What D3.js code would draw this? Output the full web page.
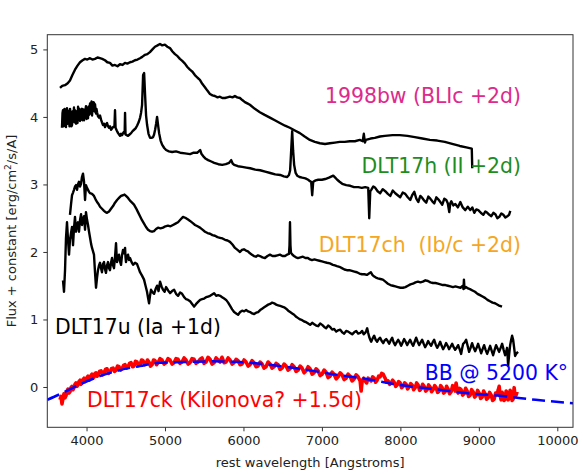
<!DOCTYPE html>
<html>
<head>
<meta charset="utf-8">
<script src="https://cdn.jsdelivr.net/npm/d3@7"></script>
<style>
  body { margin: 0; background: #fff; }
  svg { font-family: 'DejaVu Sans', sans-serif; }
</style>
</head>
<body>
<svg id="chart" width="583" height="474"></svg>
<script>
// [wavelength (A), flux + offset]
const sn1998bw = [[3662,4.43],[3690,4.46],[3725,4.47],[3760,4.50],[3789,4.54],[3820,4.62],[3853,4.70],[3885,4.76],[3917,4.81],[3950,4.84],[3980,4.86],[4010,4.85],[4044,4.87],[4075,4.85],[4108,4.86],[4140,4.88],[4171,4.87],[4200,4.86],[4235,4.84],[4265,4.81],[4299,4.80],[4330,4.76],[4362,4.77],[4395,4.75],[4426,4.78],[4460,4.77],[4490,4.80],[4520,4.79],[4554,4.81],[4585,4.82],[4617,4.84],[4650,4.85],[4681,4.87],[4710,4.89],[4745,4.92],[4775,4.93],[4808,4.96],[4840,5.00],[4872,5.04],[4905,5.06],[4936,5.08],[4965,5.06],[4999,5.07],[5030,5.04],[5063,5.02],[5095,4.97],[5127,4.93],[5160,4.90],[5190,4.86],[5220,4.83],[5254,4.79],[5285,4.74],[5318,4.70],[5350,4.67],[5381,4.62],[5415,4.58],[5445,4.55],[5475,4.49],[5509,4.44],[5540,4.39],[5573,4.34],[5605,4.32],[5636,4.31],[5670,4.29],[5700,4.30],[5730,4.28],[5764,4.28],[5795,4.29],[5827,4.30],[5860,4.29],[5891,4.31],[5920,4.29],[5955,4.28],[5985,4.25],[6018,4.22],[6050,4.20],[6082,4.18],[6145,4.12],[6209,4.07],[6270,4.03],[6337,3.99],[6400,3.95],[6464,3.91],[6530,3.87],[6591,3.84],[6655,3.80],[6719,3.76],[6780,3.71],[6846,3.66],[6910,3.63],[6974,3.61],[7040,3.60],[7101,3.61],[7165,3.62],[7228,3.63],[7290,3.63],[7356,3.64],[7420,3.64],[7483,3.66],[7520,3.64],[7534,3.75],[7548,3.62],[7560,3.66],[7620,3.68],[7674,3.69],[7740,3.71],[7802,3.72],[7900,3.73],[7993,3.73],[8090,3.72],[8184,3.70],[8280,3.68],[8375,3.66],[8470,3.65],[8566,3.63],[8660,3.60],[8757,3.57],[8840,3.55],[8910,3.53],[8916,3.24]];

const dlt17h = [[3687,3.84],[3694,4.06],[3700,4.10],[3706,3.86],[3713,3.92],[3719,4.12],[3725,4.05],[3731,3.87],[3738,3.85],[3744,4.10],[3751,4.13],[3757,3.90],[3764,3.92],[3770,4.09],[3777,3.96],[3783,3.86],[3790,4.12],[3796,4.02],[3802,4.07],[3808,3.86],[3815,3.88],[3821,4.08],[3828,3.93],[3834,4.02],[3840,4.14],[3847,3.92],[3853,4.10],[3859,4.04],[3866,3.90],[3872,4.08],[3879,3.99],[3885,3.91],[3892,4.15],[3898,3.97],[3904,4.07],[3910,4.12],[3917,3.94],[3923,4.05],[3930,3.96],[3936,4.10],[3942,4.12],[3949,3.95],[3955,4.07],[3961,4.11],[3968,3.95],[3974,4.06],[3981,3.99],[3987,4.10],[3993,4.16],[4000,3.97],[4006,4.13],[4012,4.06],[4019,3.98],[4025,4.15],[4032,4.03],[4038,4.12],[4045,4.20],[4051,4.05],[4057,4.19],[4064,4.23],[4070,4.02],[4076,4.16],[4083,4.10],[4089,4.22],[4095,4.21],[4102,4.08],[4108,4.19],[4114,4.12],[4121,4.05],[4127,4.12],[4134,4.07],[4146,4.01],[4159,3.99],[4172,4.02],[4185,3.96],[4197,3.92],[4210,3.88],[4223,3.90],[4236,3.85],[4248,3.89],[4261,3.91],[4274,3.86],[4287,3.84],[4300,3.86],[4312,3.81],[4325,3.83],[4338,3.85],[4356,3.86],[4363,4.10],[4370,3.84],[4385,3.80],[4402,3.76],[4415,3.74],[4427,3.72],[4440,3.75],[4453,3.73],[4465,3.76],[4478,3.78],[4486,3.76],[4491,4.06],[4497,3.74],[4512,3.73],[4529,3.72],[4548,3.74],[4568,3.76],[4587,3.79],[4606,3.81],[4625,3.83],[4644,3.87],[4664,3.92],[4683,3.99],[4695,4.06],[4708,4.18],[4721,4.62],[4734,4.65],[4746,4.33],[4759,4.02],[4772,3.88],[4790,3.75],[4810,3.69],[4829,3.69],[4848,3.70],[4861,3.74],[4874,3.81],[4887,3.90],[4899,4.00],[4912,3.88],[4925,3.76],[4944,3.65],[4963,3.59],[4990,3.54],[5014,3.51],[5050,3.49],[5091,3.48],[5140,3.49],[5193,3.47],[5255,3.46],[5320,3.45],[5365,3.47],[5410,3.47],[5430,3.49],[5448,3.51],[5466,3.45],[5486,3.42],[5520,3.38],[5550,3.36],[5590,3.34],[5627,3.32],[5680,3.30],[5729,3.29],[5775,3.30],[5818,3.32],[5844,3.36],[5862,3.31],[5882,3.29],[5930,3.27],[5984,3.26],[6035,3.25],[6086,3.24],[6150,3.22],[6213,3.21],[6277,3.19],[6341,3.17],[6405,3.15],[6468,3.14],[6515,3.12],[6557,3.11],[6580,3.14],[6595,3.21],[6608,3.50],[6621,3.79],[6633,3.50],[6646,3.29],[6665,3.17],[6685,3.13],[6715,3.11],[6749,3.10],[6790,3.09],[6825,3.07],[6845,3.05],[6863,3.04],[6876,2.84],[6889,3.04],[6920,3.06],[6953,3.07],[7000,3.07],[7042,3.08],[7090,3.10],[7144,3.13],[7170,3.10],[7195,3.07],[7225,3.04],[7259,3.01],[7310,2.99],[7361,2.98],[7410,2.96],[7463,2.96],[7508,2.95],[7552,2.96],[7590,2.95],[7603,2.50],[7616,2.90],[7629,2.92],[7655,2.97],[7680,2.95],[7710,2.90],[7743,2.87],[7775,2.93],[7807,2.90],[7840,2.86],[7871,2.83],[7903,2.91],[7935,2.87],[7966,2.84],[7998,2.81],[8030,2.88],[8062,2.86],[8094,2.81],[8126,2.77],[8150,2.84],[8177,2.89],[8203,2.79],[8228,2.74],[8254,2.83],[8279,2.80],[8305,2.76],[8330,2.73],[8356,2.82],[8381,2.79],[8407,2.75],[8432,2.72],[8458,2.81],[8483,2.78],[8509,2.74],[8534,2.70],[8560,2.79],[8585,2.77],[8604,2.72],[8623,2.59],[8636,2.72],[8649,2.75],[8675,2.69],[8700,2.71],[8732,2.66],[8764,2.74],[8795,2.66],[8827,2.62],[8859,2.67],[8891,2.62],[8917,2.66],[8942,2.58],[8968,2.63],[8993,2.62],[9025,2.58],[9057,2.55],[9083,2.60],[9108,2.58],[9134,2.55],[9159,2.53],[9185,2.58],[9210,2.56],[9236,2.50],[9261,2.52],[9287,2.57],[9312,2.55],[9338,2.51],[9363,2.53],[9385,2.55],[9401,2.61]];

const dlt17ch = [[3789,2.55],[3802,2.70],[3815,2.84],[3828,2.88],[3840,2.92],[3853,2.97],[3866,2.99],[3879,2.92],[3891,3.00],[3904,3.04],[3917,2.97],[3930,3.01],[3942,3.11],[3955,3.16],[3968,3.04],[3981,2.77],[3993,2.99],[4006,2.95],[4019,2.92],[4032,2.89],[4045,2.87],[4070,2.86],[4095,2.83],[4115,2.78],[4134,2.74],[4153,2.71],[4172,2.67],[4197,2.64],[4223,2.61],[4242,2.59],[4261,2.58],[4287,2.60],[4312,2.64],[4338,2.68],[4363,2.73],[4389,2.77],[4414,2.80],[4440,2.83],[4465,2.84],[4484,2.85],[4503,2.83],[4529,2.80],[4554,2.76],[4580,2.73],[4605,2.70],[4630,2.65],[4656,2.59],[4682,2.53],[4707,2.47],[4733,2.42],[4758,2.37],[4784,2.33],[4809,2.31],[4835,2.30],[4860,2.31],[4886,2.34],[4911,2.36],[4943,2.35],[4975,2.36],[5006,2.38],[5038,2.39],[5070,2.38],[5102,2.40],[5134,2.42],[5166,2.44],[5198,2.48],[5230,2.52],[5249,2.51],[5268,2.50],[5294,2.48],[5319,2.46],[5351,2.43],[5383,2.40],[5415,2.38],[5446,2.36],[5478,2.33],[5510,2.30],[5542,2.28],[5574,2.27],[5605,2.25],[5637,2.24],[5669,2.22],[5701,2.21],[5733,2.20],[5765,2.18],[5797,2.17],[5828,2.15],[5860,2.11],[5892,2.06],[5924,2.03],[5956,2.00],[5981,2.03],[6006,2.04],[6032,2.02],[6057,2.01],[6083,1.98],[6108,1.96],[6134,1.94],[6159,1.93],[6185,1.95],[6210,1.94],[6242,1.92],[6274,1.91],[6306,1.94],[6338,1.96],[6370,1.94],[6401,1.94],[6433,1.95],[6465,1.96],[6497,1.94],[6529,1.94],[6555,1.96],[6580,1.97],[6587,2.10],[6593,2.44],[6599,2.10],[6605,1.99],[6624,1.96],[6643,1.94],[6669,1.92],[6694,1.91],[6726,1.92],[6758,1.93],[6790,1.91],[6822,1.91],[6848,1.89],[6873,1.88],[6905,1.89],[6936,1.88],[6968,1.87],[7000,1.86],[7032,1.85],[7064,1.84],[7102,1.83],[7140,1.81],[7166,1.80],[7191,1.79],[7223,1.78],[7255,1.76],[7287,1.74],[7318,1.73],[7350,1.73],[7382,1.72],[7414,1.71],[7446,1.70],[7478,1.68],[7510,1.67],[7542,1.67],[7573,1.66],[7599,1.68],[7624,1.70],[7643,1.66],[7662,1.64],[7688,1.62],[7713,1.61],[7745,1.60],[7777,1.59],[7809,1.56],[7841,1.53],[7873,1.51],[7905,1.50],[7937,1.49],[7968,1.48],[8000,1.47],[8032,1.47],[8064,1.48],[8096,1.50],[8128,1.52],[8160,1.53],[8192,1.55],[8224,1.56],[8256,1.55],[8287,1.56],[8319,1.58],[8351,1.57],[8383,1.55],[8415,1.54],[8447,1.54],[8479,1.53],[8511,1.52],[8542,1.51],[8574,1.51],[8606,1.50],[8638,1.49],[8670,1.48],[8702,1.49],[8734,1.48],[8766,1.47],[8797,1.50],[8804,1.45],[8810,1.59],[8817,1.46],[8836,1.48],[8862,1.46],[8887,1.45],[8919,1.43],[8951,1.41],[8983,1.38],[9015,1.36],[9047,1.34],[9078,1.32],[9110,1.29],[9142,1.27],[9174,1.25],[9206,1.24],[9250,1.21],[9295,1.19]];

const dlt17u = [[3700,1.58],[3713,1.41],[3726,1.73],[3738,2.20],[3751,2.44],[3764,2.18],[3777,1.96],[3789,2.18],[3802,2.28],[3815,2.37],[3828,2.10],[3840,2.35],[3853,2.52],[3866,2.30],[3878,2.40],[3891,2.44],[3904,2.30],[3917,2.47],[3930,2.56],[3942,2.40],[3955,2.48],[3968,2.53],[3981,2.33],[3993,2.59],[4006,2.48],[4019,2.40],[4032,2.30],[4045,2.21],[4058,2.12],[4070,2.06],[4083,2.01],[4095,1.96],[4108,1.70],[4121,1.47],[4134,1.62],[4146,1.73],[4159,1.80],[4172,1.84],[4185,1.76],[4197,1.70],[4210,1.82],[4223,1.85],[4236,1.74],[4248,1.69],[4261,1.80],[4274,1.85],[4287,1.76],[4299,1.73],[4312,1.84],[4325,1.91],[4338,1.80],[4350,1.76],[4363,1.92],[4376,2.13],[4382,1.98],[4389,1.85],[4402,1.92],[4414,1.96],[4427,1.86],[4440,1.81],[4452,1.95],[4465,2.03],[4478,1.98],[4491,2.06],[4497,1.92],[4503,1.85],[4516,1.93],[4529,1.96],[4542,1.88],[4554,1.91],[4574,1.85],[4593,1.81],[4618,1.84],[4644,1.82],[4663,1.76],[4682,1.70],[4707,1.65],[4733,1.59],[4752,1.50],[4771,1.41],[4784,1.32],[4797,1.24],[4810,1.36],[4822,1.44],[4842,1.40],[4861,1.38],[4880,1.45],[4899,1.50],[4918,1.42],[4937,1.56],[4956,1.49],[4975,1.44],[4995,1.41],[5014,1.48],[5040,1.43],[5065,1.39],[5090,1.42],[5116,1.44],[5141,1.38],[5167,1.35],[5193,1.40],[5218,1.38],[5244,1.33],[5269,1.30],[5295,1.29],[5320,1.27],[5346,1.23],[5371,1.19],[5397,1.23],[5422,1.26],[5448,1.29],[5473,1.30],[5499,1.31],[5524,1.33],[5550,1.34],[5575,1.35],[5601,1.37],[5626,1.39],[5652,1.35],[5677,1.36],[5703,1.35],[5728,1.33],[5754,1.31],[5779,1.29],[5805,1.25],[5830,1.20],[5856,1.15],[5881,1.11],[5907,1.09],[5932,1.07],[5958,1.11],[5983,1.13],[6009,1.12],[6034,1.14],[6060,1.12],[6085,1.11],[6111,1.09],[6136,1.08],[6162,1.10],[6187,1.11],[6213,1.14],[6238,1.16],[6264,1.18],[6289,1.20],[6315,1.22],[6340,1.23],[6366,1.25],[6391,1.24],[6417,1.22],[6442,1.21],[6468,1.20],[6493,1.19],[6519,1.18],[6544,1.16],[6570,1.13],[6595,1.11],[6621,1.09],[6646,1.07],[6672,1.04],[6697,1.02],[6723,1.00],[6748,0.99],[6774,0.97],[6799,0.96],[6825,0.94],[6850,0.92],[6876,0.95],[6901,0.93],[6927,0.91],[6952,0.90],[6978,0.94],[7003,0.92],[7029,0.89],[7054,0.87],[7080,0.91],[7105,0.89],[7131,0.85],[7156,0.86],[7182,0.82],[7207,0.84],[7233,0.85],[7258,0.81],[7284,0.79],[7309,0.83],[7335,0.82],[7360,0.80],[7386,0.78],[7411,0.81],[7437,0.83],[7462,0.79],[7488,0.80],[7513,0.83],[7532,0.78],[7551,0.80],[7564,0.83],[7577,0.87],[7590,0.80],[7603,0.74],[7616,0.70],[7628,0.67],[7647,0.72],[7666,0.76],[7685,0.70],[7704,0.67],[7723,0.71],[7742,0.73],[7762,0.68],[7781,0.65],[7800,0.69],[7819,0.71],[7838,0.68],[7857,0.64],[7876,0.69],[7895,0.73],[7914,0.66],[7933,0.62],[7952,0.66],[7972,0.70],[7991,0.66],[8010,0.61],[8029,0.66],[8048,0.71],[8067,0.67],[8086,0.62],[8105,0.66],[8124,0.70],[8143,0.65],[8163,0.61],[8182,0.67],[8201,0.73],[8220,0.67],[8239,0.62],[8258,0.66],[8277,0.70],[8297,0.64],[8316,0.59],[8335,0.63],[8354,0.68],[8373,0.64],[8392,0.61],[8411,0.66],[8430,0.70],[8450,0.63],[8469,0.58],[8488,0.62],[8507,0.67],[8526,0.61],[8545,0.56],[8564,0.60],[8583,0.65],[8602,0.61],[8621,0.56],[8641,0.60],[8660,0.64],[8679,0.59],[8698,0.55],[8717,0.58],[8736,0.62],[8755,0.56],[8774,0.49],[8787,0.57],[8800,0.64],[8819,0.66],[8838,0.70],[8857,0.61],[8876,0.52],[8895,0.58],[8914,0.65],[8934,0.58],[8953,0.53],[8972,0.58],[8991,0.64],[9010,0.57],[9029,0.50],[9048,0.56],[9067,0.62],[9086,0.55],[9106,0.49],[9125,0.55],[9144,0.61],[9163,0.54],[9182,0.47],[9201,0.55],[9220,0.62],[9239,0.57],[9258,0.52],[9278,0.58],[9297,0.64],[9316,0.55],[9335,0.47],[9348,0.52],[9360,0.58],[9367,0.45],[9373,0.31],[9386,0.48],[9399,0.62],[9412,0.70],[9424,0.76],[9437,0.70],[9450,0.58],[9462,0.46],[9481,0.50],[9500,0.52]];

const dlt17ck = [[3662,-0.19],[3675,-0.14],[3687,-0.25],[3700,-0.17],[3713,-0.10],[3726,-0.16],[3738,-0.13],[3751,-0.06],[3764,-0.03],[3777,-0.09],[3789,-0.07],[3802,-0.01],[3815,0.01],[3828,-0.04],[3840,-0.01],[3853,0.04],[3866,0.06],[3879,0.01],[3891,0.03],[3904,0.08],[3917,0.10],[3930,0.04],[3942,0.06],[3955,0.11],[3968,0.13],[3981,0.08],[3993,0.10],[4006,0.14],[4019,0.16],[4032,0.10],[4044,0.12],[4057,0.17],[4070,0.19],[4083,0.13],[4095,0.15],[4108,0.20],[4121,0.21],[4134,0.16],[4146,0.18],[4166,0.23],[4185,0.24],[4204,0.18],[4223,0.21],[4242,0.26],[4261,0.27],[4280,0.20],[4299,0.22],[4318,0.27],[4338,0.28],[4357,0.23],[4376,0.25],[4395,0.31],[4414,0.30],[4433,0.25],[4452,0.27],[4472,0.32],[4491,0.33],[4510,0.28],[4529,0.30],[4548,0.35],[4567,0.36],[4586,0.30],[4605,0.31],[4624,0.38],[4643,0.37],[4662,0.32],[4682,0.33],[4701,0.40],[4720,0.39],[4739,0.33],[4758,0.34],[4777,0.40],[4796,0.37],[4815,0.31],[4835,0.33],[4854,0.40],[4873,0.39],[4892,0.33],[4911,0.36],[4937,0.42],[4962,0.40],[4988,0.34],[5013,0.36],[5039,0.42],[5064,0.40],[5090,0.34],[5115,0.36],[5141,0.42],[5166,0.41],[5192,0.35],[5217,0.37],[5243,0.43],[5268,0.40],[5294,0.34],[5319,0.36],[5345,0.42],[5370,0.41],[5396,0.35],[5421,0.37],[5447,0.41],[5472,0.43],[5498,0.35],[5523,0.37],[5549,0.44],[5574,0.41],[5600,0.34],[5625,0.36],[5651,0.43],[5676,0.40],[5702,0.37],[5727,0.44],[5753,0.36],[5778,0.37],[5804,0.43],[5829,0.40],[5855,0.34],[5880,0.36],[5906,0.41],[5931,0.39],[5957,0.33],[5982,0.34],[6008,0.40],[6033,0.37],[6059,0.31],[6084,0.33],[6110,0.39],[6135,0.36],[6161,0.30],[6186,0.31],[6212,0.37],[6237,0.34],[6263,0.28],[6288,0.30],[6314,0.37],[6339,0.34],[6365,0.28],[6390,0.30],[6416,0.35],[6441,0.33],[6467,0.26],[6492,0.28],[6518,0.34],[6543,0.31],[6569,0.25],[6594,0.27],[6620,0.33],[6645,0.30],[6671,0.23],[6696,0.25],[6722,0.31],[6747,0.28],[6773,0.21],[6798,0.24],[6824,0.30],[6849,0.27],[6875,0.19],[6900,0.21],[6926,0.27],[6951,0.24],[6977,0.17],[7002,0.19],[7028,0.25],[7053,0.22],[7079,0.14],[7104,0.16],[7130,0.22],[7155,0.19],[7181,0.12],[7206,0.15],[7232,0.21],[7257,0.18],[7283,0.11],[7308,0.13],[7334,0.19],[7359,0.16],[7385,0.09],[7410,0.12],[7436,0.18],[7461,0.15],[7487,0.09],[7500,-0.06],[7513,0.10],[7532,0.13],[7551,0.09],[7570,0.06],[7589,0.13],[7608,0.11],[7627,0.09],[7647,0.15],[7666,0.13],[7685,0.07],[7704,0.10],[7723,0.16],[7742,0.15],[7761,0.20],[7780,0.19],[7793,0.16],[7806,0.13],[7825,0.07],[7844,0.09],[7863,0.04],[7882,0.06],[7902,0.10],[7921,0.07],[7940,0.01],[7959,0.03],[7978,0.08],[7997,0.06],[8016,-0.01],[8035,0.01],[8054,0.06],[8073,0.04],[8092,-0.03],[8112,0.00],[8131,0.05],[8150,0.03],[8169,-0.04],[8188,-0.01],[8207,0.06],[8226,0.03],[8245,-0.05],[8264,-0.03],[8284,0.04],[8303,0.01],[8322,-0.06],[8341,-0.04],[8360,0.03],[8379,0.00],[8398,-0.07],[8417,-0.04],[8437,0.02],[8456,-0.01],[8475,-0.08],[8494,-0.06],[8513,0.02],[8532,-0.01],[8551,-0.09],[8570,-0.07],[8589,0.01],[8608,-0.03],[8628,-0.10],[8647,-0.07],[8666,0.02],[8685,-0.01],[8698,-0.06],[8710,0.06],[8723,-0.04],[8736,-0.09],[8755,-0.02],[8774,-0.04],[8793,-0.12],[8812,-0.10],[8832,-0.02],[8851,-0.06],[8870,-0.14],[8889,-0.12],[8908,-0.04],[8927,-0.07],[8946,-0.15],[8965,-0.13],[8984,-0.05],[9004,-0.09],[9023,-0.17],[9042,-0.15],[9061,-0.06],[9080,-0.10],[9099,-0.18],[9118,-0.16],[9137,-0.08],[9157,-0.12],[9176,-0.20],[9195,-0.18],[9214,-0.09],[9233,-0.10],[9246,-0.05],[9259,0.01],[9271,-0.12],[9284,-0.19],[9297,-0.08],[9310,-0.12],[9322,-0.20],[9335,-0.18],[9348,-0.06],[9361,-0.09],[9373,-0.19],[9386,-0.16],[9399,-0.05],[9412,-0.10],[9424,-0.20],[9437,-0.18],[9450,-0.01],[9462,-0.14],[9475,-0.12],[9488,-0.07]];

// blackbody curve
const bb5200 = [[3500,-0.19],[3690,-0.09],[3917,0.04],[4171,0.16],[4426,0.25],[4681,0.31],[4936,0.36],[5254,0.37],[5573,0.38],[5955,0.37],[6337,0.33],[6719,0.27],[7140,0.19],[7560,0.12],[7993,0.03],[8415,-0.03],[8834,-0.09],[9267,-0.13],[9725,-0.19],[10200,-0.24]];

const xTicks = [4000, 5000, 6000, 7000, 8000, 9000, 10000];
const yTicks = [0, 1, 2, 3, 4, 5];

const svg = d3.select('#chart');
const W = 583, H = 474;
const margin = {left: 47.3, top: 34.7, right: W - 573, bottom: H - 427.3};

const x = d3.scaleLinear().domain([3500, 10200]).range([margin.left, W - margin.right]);
const y = d3.scaleLinear().domain([-0.597, 5.218]).range([H - margin.bottom, margin.top]);

const line = d3.line().x(d => x(d[0])).y(d => y(d[1]));
const smooth = d3.line().x(d => x(d[0])).y(d => y(d[1])).curve(d3.curveMonotoneX);

svg.append('defs').append('clipPath').attr('id', 'clip')
  .append('rect')
  .attr('x', margin.left).attr('y', margin.top)
  .attr('width', W - margin.left - margin.right)
  .attr('height', H - margin.top - margin.bottom);

const plot = svg.append('g').attr('clip-path', 'url(#clip)');

const blacks = [sn1998bw, dlt17h, dlt17ch, dlt17u];
plot.selectAll('path.spec')
  .data(blacks)
  .join('path')
  .attr('class', 'spec')
  .attr('d', line)
  .attr('fill', 'none')
  .attr('stroke', '#000')
  .attr('stroke-width', 2.4)
  .attr('stroke-linejoin', 'round');

plot.append('path')
  .attr('d', line(dlt17ck))
  .attr('fill', 'none')
  .attr('stroke', '#ff0000')
  .attr('stroke-width', 3.6)
  .attr('stroke-linejoin', 'round');

plot.append('path')
  .attr('d', smooth(bb5200))
  .attr('fill', 'none')
  .attr('stroke', '#0000ff')
  .attr('stroke-width', 2.5)
  .attr('stroke-dasharray', '13,6');

// axes
const xAxis = svg.append('g')
  .attr('transform', `translate(0,${H - margin.bottom})`)
  .call(d3.axisBottom(x).tickValues(xTicks).tickSize(4).tickPadding(4).tickFormat(d3.format('d')));
const yAxis = svg.append('g')
  .attr('transform', `translate(${margin.left},0)`)
  .call(d3.axisLeft(y).tickValues(yTicks).tickSize(4).tickPadding(5).tickFormat(d3.format('d')));

[xAxis, yAxis].forEach(a => {
  a.select('.domain').remove();
  a.selectAll('line').attr('stroke', '#333');
  a.selectAll('text').attr('font-size', 13).attr('fill', '#222').attr('font-family', 'DejaVu Sans');
});

svg.append('rect')
  .attr('x', margin.left).attr('y', margin.top)
  .attr('width', W - margin.left - margin.right)
  .attr('height', H - margin.top - margin.bottom)
  .attr('fill', 'none')
  .attr('stroke', '#333')
  .attr('stroke-width', 1);

svg.append('text')
  .attr('x', (margin.left + W - margin.right) / 2)
  .attr('y', 467)
  .attr('text-anchor', 'middle')
  .attr('font-size', 13)
  .attr('fill', '#222')
  .text('rest wavelength [Angstroms]');

const ylab = svg.append('text')
  .attr('transform', `translate(16,${(margin.top + H - margin.bottom) / 2}) rotate(-90)`)
  .attr('text-anchor', 'middle')
  .attr('font-size', 13)
  .attr('fill', '#222');
ylab.append('tspan').text('Flux + constant [erg/cm');
ylab.append('tspan').attr('font-size', 9).attr('dy', -5).text('2');
ylab.append('tspan').attr('dy', 5).text('/s/A]');

// labels
const labels = [
  {t: '1998bw (BLIc +2d)', x: 521, y: 103, c: '#dd2a8c', a: 'end'},
  {t: 'DLT17h (II +2d)', x: 521, y: 173, c: '#1e8c1e', a: 'end'},
  {t: 'DLT17ch  (Ib/c +2d)', x: 521, y: 252, c: '#f5a623', a: 'end'},
  {t: 'DLT17u (Ia +1d)', x: 55, y: 334, c: '#000', a: 'start'},
  {t: 'DLT17ck (Kilonova? +1.5d)', x: 87, y: 407, c: '#ff0000', a: 'start'},
  {t: 'BB @ 5200 K°', x: 568, y: 380, c: '#0000ff', a: 'end'}
];
svg.selectAll('text.lab')
  .data(labels)
  .join('text')
  .attr('class', 'lab')
  .attr('x', d => d.x).attr('y', d => d.y)
  .attr('text-anchor', d => d.a)
  .attr('fill', d => d.c)
  .attr('font-size', 20.4)
  .style('white-space', 'pre')
  .text(d => d.t);
</script>
</body>
</html>
